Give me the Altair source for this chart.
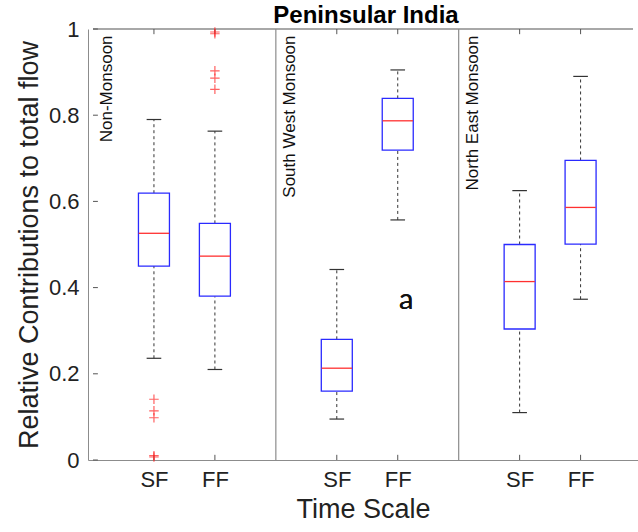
import altair as alt
import pandas as pd

# ---- data ----
groups = ["SF", "FF", "SF", "FF", "SF", "FF"]
positions = [1, 2, 4, 5, 7, 8]
whisk_lo = [0.236, 0.210, 0.095, 0.557, 0.110, 0.373]
q1 = [0.450, 0.380, 0.160, 0.719, 0.304, 0.501]
median = [0.526, 0.473, 0.213, 0.787, 0.414, 0.586]
q3 = [0.619, 0.549, 0.280, 0.839, 0.500, 0.695]
whisk_hi = [0.790, 0.763, 0.442, 0.905, 0.625, 0.890]

outlier_pos = [1, 1, 1, 1, 1, 2, 2, 2, 2, 2]
outlier_val = [0.141, 0.114, 0.098, 0.010, 0.007, 0.993, 0.989, 0.903, 0.886, 0.860]

seasons = ["Non-Monsoon", "South West Monsoon", "North East Monsoon"]
season_start = [0, 3, 6]
separators = [3, 6]
y_ticks = [0, 0.2, 0.4, 0.6, 0.8, 1.0]
title_text = ["Peninsular India"]

X_MAX = 8.86
FRAME = "#8c8c8c"
FONT = "Liberation Sans"

boxes = pd.DataFrame({"pos": positions, "grp": groups, "lo": whisk_lo, "q1": q1,
                      "med": median, "q3": q3, "hi": whisk_hi})
outs = pd.DataFrame({"pos": outlier_pos, "val": outlier_val})
seas = pd.DataFrame({"name": seasons, "start": season_start})
seps = pd.DataFrame({"x": separators})
xt = pd.DataFrame({"pos": positions})
yt = pd.DataFrame({"v": y_ticks})
tt = pd.DataFrame({"t": title_text})

xscale = alt.Scale(domain=[0, X_MAX], nice=False, zero=False)
yscale = alt.Scale(domain=[0, 1], nice=False)

label_expr = " : ".join(f"datum.value == {p} ? '{g}'" for p, g in zip(positions, groups)) + " : ''"

base = alt.Chart(boxes)

box = base.mark_bar(size=31, fill="white", stroke="#2a2aff", strokeWidth=1.3).encode(
    x=alt.X("pos:Q", scale=xscale,
            axis=alt.Axis(values=positions, labelExpr=label_expr, ticks=False, grid=False,
                          domainColor=FRAME, labelFontSize=22, labelFont=FONT,
                          labelColor="#222", labelPadding=9, title="Time Scale",
                          titleFontSize=27, titleFont=FONT, titleFontWeight="normal",
                          titleColor="#222", titlePadding=6)),
    y=alt.Y("q1:Q", scale=yscale,
            axis=alt.Axis(values=y_ticks, format="~g", ticks=False, grid=False,
                          domainColor=FRAME, labelFontSize=22, labelFont=FONT,
                          labelColor="#222", labelPadding=9,
                          title="Relative Contributions to total flow",
                          titleFontSize=27, titleFont=FONT, titleFontWeight="normal",
                          titleColor="#222", titlePadding=5)),
    y2="q3:Q",
)

whisk_up = base.mark_rule(color="#333", strokeDash=[3, 3], strokeWidth=1).encode(
    x="pos:Q", y="q3:Q", y2="hi:Q")
whisk_dn = base.mark_rule(color="#333", strokeDash=[3, 3], strokeWidth=1).encode(
    x="pos:Q", y="lo:Q", y2="q1:Q")

cap_hi = base.transform_calculate(a="datum.pos - 0.12", b="datum.pos + 0.12").mark_rule(
    color="#333", strokeWidth=1.2).encode(x="a:Q", x2="b:Q", y="hi:Q")
cap_lo = base.transform_calculate(a="datum.pos - 0.12", b="datum.pos + 0.12").mark_rule(
    color="#333", strokeWidth=1.2).encode(x="a:Q", x2="b:Q", y="lo:Q")

med_line = base.transform_calculate(a="datum.pos - 0.25", b="datum.pos + 0.25").mark_rule(
    color="#ff3030", strokeWidth=1.3).encode(x="a:Q", x2="b:Q", y="med:Q")

out_pts = alt.Chart(outs).mark_point(shape="M-1,0L1,0M0,-1L0,1", size=90, filled=False,
                                     color="#ff2020", strokeWidth=1.2).encode(
    x="pos:Q", y="val:Q")

sep_lines = alt.Chart(seps).mark_rule(color=FRAME, strokeWidth=1.2).encode(
    x="x:Q", y=alt.datum(0), y2=alt.datum(1))

top_line = alt.Chart(seps).mark_rule(color=FRAME, strokeWidth=1.2).encode(
    x=alt.datum(0), x2=alt.datum(X_MAX), y=alt.datum(1))

xtick_b = alt.Chart(xt).mark_rule(color="#555", strokeWidth=1).encode(
    x="pos:Q", y=alt.datum(0), y2=alt.datum(0.012))
xtick_t = alt.Chart(xt).mark_rule(color="#555", strokeWidth=1).encode(
    x="pos:Q", y=alt.datum(1), y2=alt.datum(0.988))
ytick = alt.Chart(yt).mark_rule(color="#555", strokeWidth=1).encode(
    y="v:Q", x=alt.datum(0), x2=alt.datum(0.08))

season_txt = alt.Chart(seas).transform_calculate(tx="datum.start + 0.23").mark_text(
    angle=270, align="right", baseline="middle", fontSize=17, font=FONT, color="#111"
).encode(x="tx:Q", y=alt.datum(0.985), text="name:N")

a_txt = alt.Chart(seps).mark_text(text="a", fontSize=29, font="Lato", color="#111").encode(
    x=alt.datum(5.14), y=alt.datum(0.371))

title_txt = alt.Chart(tt).mark_text(fontSize=24, font=FONT, fontWeight="bold", color="#000",
                                    align="center", baseline="alphabetic").encode(
    x=alt.value(278), y=alt.value(-6), text="t:N")

chart = alt.layer(
    sep_lines, top_line, xtick_b, xtick_t, ytick,
    whisk_up, whisk_dn, cap_hi, cap_lo, box, med_line, out_pts, season_txt, a_txt, title_txt
).properties(
    width=550, height=431,
    autosize=alt.AutoSizeParams(type="none"),
    padding={"left": 88, "top": 29, "right": 0, "bottom": 72},
).configure_view(stroke=None)

chart.save("out.html", embed_options={"renderer": "svg", "actions": False})
